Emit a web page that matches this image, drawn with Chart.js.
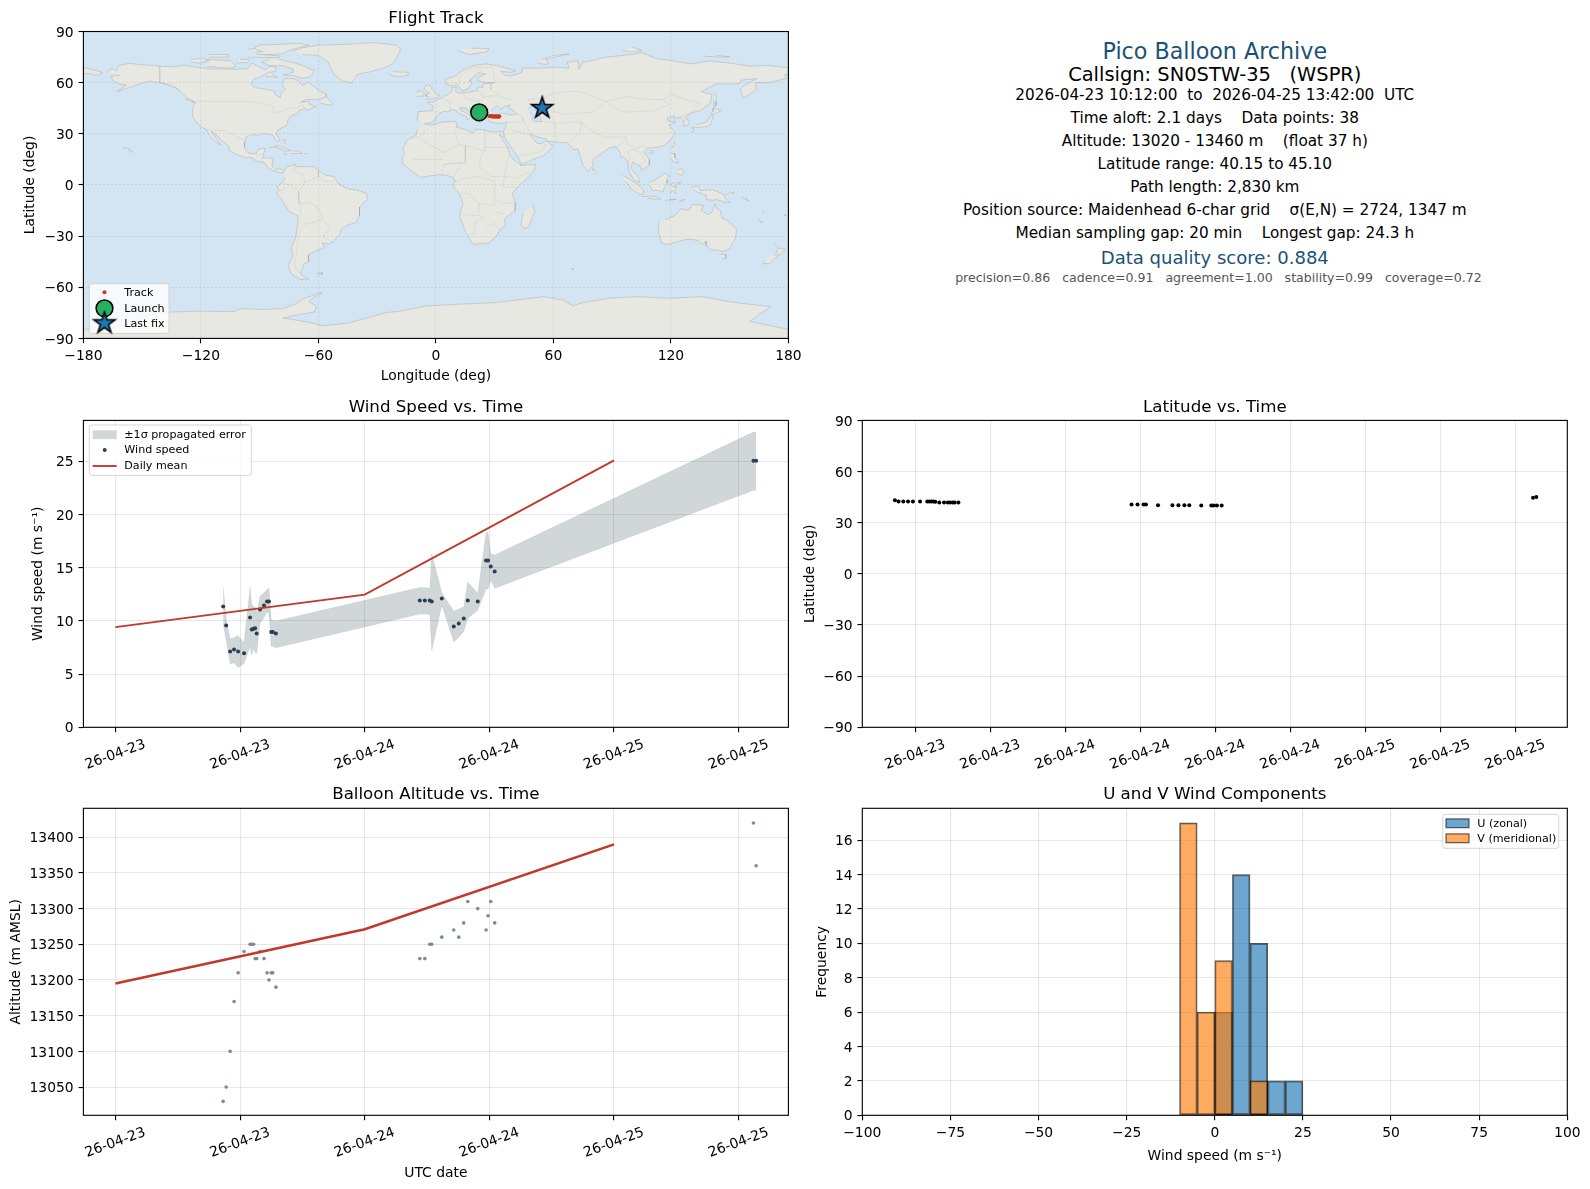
<!DOCTYPE html>
<html><head><meta charset="utf-8">
<style>
html,body{margin:0;padding:0;background:#fff;width:1590px;height:1189px;overflow:hidden;font-family:'DejaVu Sans';}
canvas{position:absolute;}
.t{position:absolute;left:862.3px;width:705px;text-align:center;white-space:pre;line-height:1;transform:translateY(-50%);color:#000;font-size:15.28px;}
</style>
<script src="https://cdn.jsdelivr.net/npm/chart.js@4"></script>
</head><body>
<script>
// ---------- shared time stamps (hours since 2026-04-23 00:00 UTC)
const hours=[10.37,10.66,11.04,11.42,11.81,12.38,12.96,13.12,13.3,13.45,13.6,13.92,14.3,14.6,14.78,15.0,15.15,15.45,
 29.3,29.78,30.26,30.45,31.42,32.57,33.05,33.53,33.92,34.88,35.68,35.87,36.13,36.51,61.42,61.68];
const windSpeed=[11.36,9.57,7.13,7.32,7.13,6.95,10.33,9.2,9.26,9.3,8.82,11.08,11.45,11.83,11.83,8.95,8.95,8.82,
 11.92,11.92,11.92,11.83,12.11,9.48,9.76,10.23,11.92,11.83,15.68,15.68,15.11,14.64,25.06,25.06];
const windUpper=[13.27,10.2,8.32,8.42,8.64,7.95,13.14,11.6,11.3,11.3,10.7,12.33,12.64,12.95,13.11,10.08,10.08,10.0,
 13.14,13.14,13.05,16.33,12.64,10.92,11.1,11.33,13.67,12.6,18.3,18.3,16.33,16.2,27.75,27.75];
const windLower=[9.76,8.2,5.94,6.07,5.63,6.0,7.57,6.79,7.4,7.0,6.95,9.76,10.3,10.86,10.64,7.63,7.63,7.48,
 10.64,10.64,10.6,7.2,11.48,8.04,8.45,9.0,10.23,11.0,13.0,13.0,13.83,13.08,22.28,22.28];
const meanHours=[0,24,48];
const windMean=[9.42,12.47,25.09];
const altMean=[13195,13271,13390];
const altitude=[13030,13050,13100,13170,13210,13240,13250,13250,13250,13230,13230,13240,13230,13210,13200,13210,13210,13190,
 13230,13230,13250,13250,13260,13270,13260,13280,13310,13300,13270,13290,13310,13280,13420,13360];
const latitude=[43.1,42.5,42.4,42.4,42.4,42.4,42.4,42.4,42.4,42.4,42.3,41.9,41.9,41.9,41.8,41.8,41.8,41.8,
 40.7,40.7,40.7,40.7,40.2,40.2,40.2,40.2,40.2,40.15,40.15,40.15,40.15,40.15,44.6,45.1];
const trackLat=[43.1,42.5,42.4,42.4,42.4,42.4,42.4,42.4,42.4,42.4,42.3,41.9,41.9,41.9,41.8,41.8,41.8,41.8,
 40.3,40.3,40.3,40.3,40.2,40.2,40.2,40.2,40.2,40.15,40.15,40.15,40.15,40.15,44.6,45.1];
const longitude=[22.1,22.3,22.5,22.8,23,23.2,23.4,23.6,23.8,24,24.2,24.4,24.7,24.9,25.2,25.4,25.6,25.9,
 27.5,27.9,28.3,28.6,29,29.5,29.9,30.3,30.7,31.1,31.5,31.8,32.1,32.4,54,54.4];
const launchPos=[22.1,42.6];
const lastFixPos=[54.3,45.1];
// ---------- tick labels
const timeTicksA=[0,12,24,36,48,60];
const timeLabelsA=['26-04-23','26-04-23','26-04-24','26-04-24','26-04-25','26-04-25'];
const timeTicksB=[12,18,24,30,36,42,48,54,60];
const timeLabelsB=['26-04-23','26-04-23','26-04-24','26-04-24','26-04-24','26-04-24','26-04-25','26-04-25','26-04-25'];
const lonTicks=[-180,-120,-60,0,60,120,180];
const latTicks=[-90,-60,-30,0,30,60,90];
const windTicks=[0,5,10,15,20,25];
const altTicks=[13050,13100,13150,13200,13250,13300,13350,13400];
const histXTicks=[-100,-75,-50,-25,0,25,50,75,100];
const histYTicks=[0,2,4,6,8,10,12,14,16];
// ---------- histogram
const uBinCenters=[2.5,7.5,12.5,17.5,22.5];
const uCounts=[6,14,10,2,2];
const vBinCenters=[-7.5,-2.5,2.5,7.5,12.5];
const vCounts=[17,6,9,0,2];
// ---------- base map (lon, lat)
const northAmerica=[[-168,65.6],[-166,68.3],[-163,67],[-162,70],[-156.5,71.3],[-150,70.5],[-141,69.7],[-135,69.3],[-128,70.2],[-125,69.5],[-115,68],[-108,68],[-102,67.8],[-96,68.2],[-94,71.5],[-90,69],[-87,67.5],[-85,69.5],[-81.5,69],[-82,66.5],[-86,66],[-88,64.2],[-93,62],[-94.5,59],[-92.5,57],[-88,56.5],[-82.5,55],[-82,52.8],[-79.5,51.3],[-79,54],[-77,56],[-78.5,58.8],[-77.5,62.4],[-73,62.3],[-70,61],[-68,58.5],[-65,60.3],[-62,57.5],[-60,55.5],[-56,53],[-56,51.8],[-60,50.2],[-66,50.2],[-69,48.5],[-65,49],[-64.5,47],[-61,46],[-64,44.5],[-66,44],[-67,45],[-70,43.7],[-70.5,41.8],[-74,40.5],[-75.5,38],[-76,35],[-78,34],[-81,32],[-81.5,30],[-80,26.8],[-80.5,25.2],[-82,26.5],[-83,29],[-85,29.7],[-89,30.2],[-90,29.2],[-94,29.6],[-97,28],[-97.5,25],[-97.8,22.3],[-96,19],[-94,18.2],[-91.5,18.5],[-90.5,21],[-87,21.5],[-88,18],[-88.5,15.8],[-84,15.8],[-83.3,15],[-83.7,11],[-82,9],[-79.5,9.5],[-77.4,8.7],[-78,7.3],[-80,7.3],[-83,8.3],[-85.7,10],[-87.5,13],[-91.5,14],[-94.5,16.2],[-97,15.9],[-102,18],[-105.5,20],[-105.5,22.5],[-109,25.7],[-112.5,29.5],[-114.7,31.7],[-112.5,27.5],[-109.5,23.2],[-112,24.8],[-115,28],[-116.5,31],[-117.2,32.5],[-120.6,34.5],[-122.5,37.5],[-124.3,40.3],[-124,46],[-122.7,48.5],[-127,51],[-130,54.5],[-133,57],[-137,58.7],[-140,59.8],[-146,61],[-151,59.5],[-153,58.5],[-158,56.5],[-163,54.8],[-158,58.5],[-162,59.3],[-165,61.5],[-166,63.5],[-161,64.5]];
const chukotkaWest=[[-180,68.9],[-175,67.5],[-170,66],[-173,64.3],[-178,65.5],[-180,65]];
const greenland=[[-73,78.5],[-68,80.5],[-60,82],[-45,82.5],[-32,83.5],[-20,82],[-18,79.5],[-20,74.5],[-22,71],[-27,68.5],[-33,66.5],[-40,65],[-43,60],[-48,61],[-52,65],[-54,69],[-55,72],[-60,76],[-68,76.5]];
const baffin=[[-80,73.7],[-72,71.5],[-68,70],[-62,67],[-64,63.5],[-68,62.5],[-72,64],[-78,64.5],[-73,66],[-73,68],[-78,70],[-85,70],[-89,72],[-85,73.7]];
const victoriaIsland=[[-117,69.5],[-105,68.5],[-102,69.5],[-105,73],[-115,73.5],[-118,71.5]];
const banksIsland=[[-125,72],[-120,71.5],[-116,73.5],[-120,74.3],[-125,73.5]];
const ellesmere=[[-90,76.5],[-85,76.5],[-78,77],[-75,79],[-65,82],[-70,83],[-90,82],[-93,80],[-88,78]];
const devonIsland=[[-96,75],[-80,74.7],[-80,75.7],[-92,76.7]];
const melvilleIsland=[[-116,75],[-106,75],[-106,76.5],[-116,76.5]];
const axelHeiberg=[[-96,79.5],[-90,80.5],[-86,78.5],[-92,78]];
const princeWales=[[-102,71.5],[-96,71.8],[-95,73.5],[-100,73.8]];
const southampton=[[-87,64],[-81,63],[-84,65.5]];
const newfoundland=[[-59,47.8],[-53,46.8],[-53,48.5],[-56,51.5]];
const vancouverIsland=[[-128,50.7],[-123.5,48.4],[-125,48.8]];
const hawaii=[[-160,22],[-156,21],[-155,19.5],[-156,19.2],[-157,21]];
const cuba=[[-85,21.8],[-80,23],[-74.2,20.2],[-77.5,19.9],[-78,20.7],[-82.5,22.5]];
const hispaniola=[[-74.5,18.4],[-68.5,18.5],[-70,19.8],[-73,19.9]];
const jamaica=[[-78.3,18.3],[-76.3,18],[-77,17.8]];
const puertoRico=[[-67.2,18.4],[-65.7,18.3],[-66,18]];
const bahamas=[[-78.5,26.7],[-77,26.5],[-77.5,24]];
const southAmerica=[[-77.4,8.7],[-75.5,10.8],[-72,12],[-71.5,10.8],[-68,10.7],[-62,10.7],[-60,8.5],[-57,6],[-52,4.8],[-50,1],[-48,-0.7],[-44,-2.5],[-40,-2.9],[-35.2,-5.3],[-35,-8.5],[-39,-13],[-39,-18],[-41,-22],[-45,-23.5],[-48.5,-26],[-49,-29],[-52,-32.5],[-54,-34.5],[-58,-34.3],[-57,-37],[-62,-39],[-65,-41],[-65,-45],[-67.5,-46.5],[-69,-51],[-68.5,-53],[-65,-55],[-69,-55.5],[-74,-52],[-75.5,-47],[-73,-42],[-73.7,-37],[-71.5,-30],[-70.5,-23],[-70.3,-18.3],[-75,-15.5],[-79,-8],[-81.3,-5],[-80,-3],[-81,-1],[-78.5,1.5],[-77,4]];
const falklands=[[-61,-52],[-58,-51.5],[-58,-52.3],[-60,-52.5]];
const africa=[[-6,35.8],[-2,35.2],[3,36.8],[10,37.3],[11,34.5],[10.2,34],[15,32.4],[19,30.3],[20,32.5],[23,32.5],[29,31],[32.5,31.2],[34.2,31.3],[34.9,29.5],[34.2,27.8],[33,29],[32.5,29.9],[33.5,27.5],[35.5,24],[37,21],[37.5,18.5],[39.5,15],[43,12],[43.3,11.5],[51,12],[50.5,9],[47,4.5],[42,-1],[39,-5],[40.5,-10.5],[40.5,-15],[35,-20],[35.5,-24],[32.8,-26],[31,-30],[27,-34],[20,-34.8],[18.3,-34],[15,-27],[12,-18],[13.8,-11],[12,-5],[9,-1],[9.7,3],[8.5,4.5],[5,5.8],[1,6],[-4,5.2],[-7.5,4.4],[-13,8.5],[-16.8,12.5],[-17.3,14.7],[-16,19],[-17,21],[-14.8,26],[-10,29.5],[-9.5,32.5]];
const madagascar=[[49.3,-12],[50.4,-15.5],[47.5,-24.5],[45,-25.5],[43.5,-23],[44.5,-16.5]];
const eurasia=[[-9,37],[-9.5,38.7],[-9,43],[-2,43.5],[-1.2,46],[-4.5,48.4],[-1.5,48.7],[1.5,50.2],[4,52],[7,53.5],[8.5,55.5],[8.2,57],[10.5,57.5],[10,55],[11,54],[14,54],[18.5,54.7],[21,55.3],[21.5,57.5],[24,57.2],[24,59.2],[28,59.6],[30,60],[25,60.2],[21.5,61],[21.5,63],[25.5,65],[22,65.8],[17.5,62],[17.5,60.5],[18.5,59.5],[16.5,56.5],[14.3,55.5],[13,55.5],[11,59],[8,58],[5.5,59],[5,62],[10,64],[14,67.5],[19,70],[25.5,71],[31,70],[41,67],[38,66],[33,66.7],[35,64.3],[38,64],[40.5,64.6],[44,66],[44,68.5],[54,68.5],[60,69],[68,68.5],[67,72],[72.5,72.8],[73,68],[75,72],[80,73],[87,75],[100,76.5],[105,77.7],[113,74],[120,73],[130,71],[140,72.7],[150,71.5],[160,69.7],[170,70],[178,69],[180,68.9],[180,65],[178,64.5],[179,62.5],[170,60],[163,60],[163.5,56],[160,53],[156.8,51],[155.5,56],[157,58],[164,62.5],[156,61.5],[155,59.3],[143,59.3],[135.5,54.7],[141,53],[140,48],[135,43.5],[130.5,42.5],[127.5,39.8],[129.4,37],[129,35.2],[126.5,34.5],[126.7,37.5],[125,39.7],[121.5,39],[122,40.5],[118,39],[119,37.3],[122.5,37],[119,35],[122,31],[121,28],[117,23.5],[113,22],[108,21.6],[106,19.5],[109,15],[109,11.5],[105,8.7],[104.8,10.5],[100.5,13.5],[99.5,10],[103.5,4.5],[104,1.4],[101,3],[98.5,8],[98,14],[96,16.5],[94.5,16],[94,19],[91.8,22.5],[89,21.8],[86.5,20],[80.3,15],[80,11],[77.5,8],[75,12],[73,19],[72.5,21],[70,20.8],[69,22.5],[67,24.8],[62,25],[57,25.7],[56.3,27],[51,28.5],[48.5,30],[48,29.5],[50,26.7],[51.5,24.5],[54,24.2],[56.3,26],[59.8,22.5],[55,17],[52,16],[45,12.8],[43.3,12.7],[42,16.5],[39,21],[35,28],[34.5,31.2],[35.5,33.5],[36,36.5],[32,36.2],[30,36.3],[27.3,37],[26.3,39.5],[29,41],[27.5,41],[26,40.7],[23.5,40],[24,38],[23,36.5],[21.2,37.5],[19.5,41],[19,42.2],[14.5,45],[12.3,45.3],[12.5,44],[16,41.8],[18.5,40.2],[16.8,39],[16,38],[15.7,40],[12.5,41.5],[10.3,43.5],[8.8,44.3],[6,43],[3.3,43],[0.5,40.7],[-0.5,38.5],[-2,36.8],[-5.5,36]];
const britain=[[-5.5,50],[1.3,51.2],[1.7,52.7],[0,53.5],[-2,56],[-2,57.7],[-3.3,58.6],[-5,58.6],[-6,56.5],[-4.8,55],[-3,54],[-4.7,53.3],[-5,52],[-3.2,51.4]];
const ireland=[[-10,52],[-6.2,52.2],[-6,54],[-7.5,55.3],[-10,54.2]];
const iceland=[[-24,65.5],[-22,64],[-19,63.4],[-14,64.5],[-14.5,66.2],[-18,66.2],[-22,66.4]];
const svalbard=[[11,79],[17,76.6],[26,78],[27,80],[18,80.2]];
const novayaZemlya=[[52,71.5],[56,70.6],[57.5,71],[56,73.5],[63,75.5],[68,76.8],[60,76],[54,73.5]];
const severnaya=[[95,79],[100,78],[105,79],[100,81]];
const newSiberia=[[137,75.5],[145,75],[150,75.2],[143,76]];
const sakhalin=[[142,54.3],[143.3,52],[143,49],[143,46.5],[142,46],[142,50]];
const honshu=[[131,34],[135,33.6],[140,35],[141,38],[141.5,41],[140,40.5],[138.5,37],[136,36],[133,35.5]];
const hokkaido=[[140,42],[143,42],[145.5,43.5],[142,45.4],[141.5,43]];
const kyushu=[[130,33.5],[131.8,33],[131,31],[130,31.5]];
const taiwan=[[120.2,23],[121,22],[122,25],[121,25.2]];
const hainan=[[108.7,19],[110.5,18.3],[111,20],[109.5,20]];
const luzon=[[120,18.5],[122,18.4],[122,16],[124,13],[121,13.7],[120,16]];
const mindanao=[[122,7],[125.5,5.8],[126.5,7.5],[125.5,9.8],[123,8.5]];
const sriLanka=[[79.8,8.5],[80.2,9.8],[81.8,7.5],[80.5,6]];
const sumatra=[[95.3,5.6],[98,4],[103.5,0],[106,-3],[105.7,-5.8],[104,-5.5],[100,-2.5],[97,2]];
const java=[[105.3,-6.8],[108.5,-6.7],[111,-6.5],[114.5,-7.8],[114.3,-8.7],[108,-7.8]];
const borneo=[[109,1.5],[111.5,2.7],[114,4.5],[117,7],[119,5.2],[117.8,3],[118,1],[116.5,-2],[116,-4],[114.5,-3.5],[110.5,-3],[109,0]];
const sulawesi=[[119.5,-5.5],[120.5,-3],[122.5,-5],[122,-3],[123,-1],[121,-1],[125,1.5],[120.5,1],[119.7,-1]];
const newGuinea=[[131,-1],[134,-0.8],[135,-3.3],[141,-2.7],[145,-4.5],[147.5,-6],[147,-7],[150.5,-10.5],[147,-10],[143.5,-8.5],[141,-9],[138,-8.3],[138,-6],[133,-4],[132,-2.8]];
const timor=[[124,-10],[127,-8.5],[125,-9]];
const flores=[[117,-9],[122.8,-8.5],[119,-8.3]];
const newBritain=[[148,-5.6],[152,-4.2],[151,-6]];
const solomons=[[156,-7],[160,-9.5],[158,-8]];
const vanuatu=[[166.8,-15],[167.5,-16.5],[167,-16]];
const caledonia=[[164,-20],[167,-22],[165,-21.5]];
const fiji=[[177.5,-18],[178.5,-17.5],[178.5,-18.2]];
const australia=[[114,-22],[113.5,-26],[115,-34],[118,-35],[124,-33],[129,-31.7],[134,-32.5],[136,-35],[138,-33],[138,-35.5],[140.5,-38],[144,-38.3],[146.5,-39],[150,-37.5],[153,-31],[153.5,-26],[149,-21],[146,-19],[145.3,-15],[143.5,-14],[142.5,-11],[141,-16],[139,-17.5],[135.5,-15],[136.8,-12],[131,-11.5],[129,-15],[125,-14],[122,-18],[117,-20.5]];
const tasmania=[[144.7,-40.8],[148,-40.8],[148,-43],[146,-43.5]];
const nzNorth=[[172.7,-34.5],[175,-37],[178.4,-37.7],[177,-39.5],[175.2,-41.5],[174,-39.5],[174.7,-37]];
const nzSouth=[[172.7,-40.6],[174.3,-41.7],[170.5,-46],[167,-46.3],[168.3,-44.2]];
const kerguelen=[[69,-49],[70.5,-49.3],[69.5,-49.7]];
const antarctica=[[-180,-90],[-180,-84.7],[-165,-84],[-155,-81],[-147,-76.5],[-135,-74.5],[-120,-74],[-103,-74.3],[-100,-72.5],[-88,-73],[-78,-72.5],[-72,-70],[-68,-67],[-60,-63.5],[-58,-63.2],[-62,-65.5],[-65,-68.5],[-61,-71],[-62,-74.5],[-70,-76],[-78,-78],[-65,-80.5],[-58,-82.7],[-45,-81],[-35,-78],[-26,-75],[-18,-74],[-5,-71],[10,-70],[30,-69],[45,-67],[55,-65.5],[65,-67.5],[70,-71],[75,-69],[88,-66.5],[103,-65.5],[120,-66.5],[136,-65.5],[150,-68.5],[171,-71.5],[165,-76],[163,-78],[160,-80],[180,-84.7],[180,-90]];
const blackSea=[[28,41.2],[31,41.2],[35,42],[38,41],[41.5,41.7],[39,44],[37,45.2],[38,47],[35,46],[33.5,44.5],[31,46.5],[28,43.5]];
const caspianSea=[[47,45],[51,47],[53,45],[50.5,44.5],[53,40.5],[54,37],[50,37.3],[49,39],[50,40.5],[47.5,43]];
const landPolygons=[northAmerica,chukotkaWest,greenland,baffin,victoriaIsland,banksIsland,ellesmere,devonIsland,melvilleIsland,axelHeiberg,princeWales,southampton,newfoundland,vancouverIsland,hawaii,cuba,hispaniola,jamaica,puertoRico,bahamas,southAmerica,falklands,africa,madagascar,eurasia,britain,ireland,iceland,svalbard,novayaZemlya,severnaya,newSiberia,sakhalin,honshu,hokkaido,kyushu,taiwan,hainan,luzon,mindanao,sriLanka,sumatra,java,borneo,sulawesi,newGuinea,timor,flores,newBritain,solomons,vanuatu,caledonia,fiji,australia,tasmania,nzNorth,nzSouth,kerguelen,antarctica];
const waterPolygons=[blackSea,caspianSea];
const borderLines=[
[[-123,49],[-95,49],[-89,48],[-83,46],[-82.5,42.5],[-79,43],[-75,45],[-71,45],[-68,47],[-67,45]],
[[-141,69.7],[-141,60],[-135,59],[-130,55]],
[[-117,32.5],[-106.5,31.8],[-103,29],[-97.5,26]],
[[-92,14.5],[-91,17.5],[-89,18]],[[-89.3,15.8],[-88,13]],
[[-72,12],[-72.5,7.5],[-67.5,6],[-67,1.5],[-70,-4],[-70,-11],[-65,-10],[-60,-13.5],[-58,-20],[-54,-25],[-57.5,-30],[-53.5,-33.5]],
[[-70.3,-18.3],[-69,-17],[-69,-11]],
[[-68.5,-53],[-72,-48],[-71,-38],[-70,-28],[-67,-23],[-62.5,-22],[-58,-20]],
[[-78.5,1.5],[-75,0],[-70,-4]],[[-80,-3.5],[-75,-1]],
[[-60,8.5],[-60,5],[-57,2],[-52,2.5]],[[-67,1.5],[-60,5]],
[[-2,35],[-8.7,28],[-13,27.7]],[[-8.7,27.3],[4,19],[12,23.5]],
[[10,33],[9.5,30],[12,23.5],[15,23],[25,20],[25,31.5]],[[25,22],[37,22]],
[[15,23],[15,13],[4,12]],[[-12,15],[4,15]],
[[24,20],[22,11],[28,5],[35,5],[36.5,14.5],[38,18]],
[[3,6.5],[4,12],[13.5,13.5],[9,4.5]],
[[12,-5],[17,-5],[22,-11],[30,-12],[30,-3],[30,2],[22,5],[15,4],[9.5,2]],
[[12,-17.3],[22,-18],[22,-11]],[[17,-29],[20,-28.5],[20,-22],[25,-18]],[[32,-26],[30,-22.5],[25,-25]],
[[40,-10.5],[34,-11],[30,-8]],[[41.5,-1.5],[34,-1],[35,5],[41,4],[48,8]],[[35,-17],[30,-15.5]],
[[-1.8,43.3],[3,42.4]],[[2.5,51],[6,49.5],[8,49],[7.5,47.5],[7,44]],
[[14,54],[15,51],[19,49.5],[22.5,49],[24,51.5],[23.5,54],[21,55.2]],[[40,49.5],[35,51],[31,52.5],[24,51.5]],
[[13.5,45.5],[19,45],[22,44],[28.5,44]],[[28,59.5],[28,56],[32,53]],[[30,60.5],[29,69],[20.5,69],[24,66]],
[[12,59],[12,63],[18,68.5],[20.5,69]],[[36,36.7],[44.5,37.2],[44,40],[41.5,41.5]],[[44.5,39],[46,35],[48.5,30]],
[[61.5,25],[61,30],[61,36.5],[54,37.5]],[[48,29.3],[39,32],[36.5,32.5]],[[43,17],[52,19],[55.5,22],[56,24]],
[[49,46],[47,50],[55,51],[61,54],[71,55],[77,53.5],[87,49]],[[53,42],[56,45],[66,41],[70,42],[80,42.5],[82.5,45.5],[87,49]],
[[87,49],[98,52],[107,50],[116,50],[119,47],[111,43.5],[96,42.7],[91,45.5],[87,49]],[[116,50],[120,53.5],[127,50],[135,48],[131,43]],
[[74,37],[79,32],[86,28],[92,28],[97,28],[98,24],[102,21.5],[106,23],[108,21.6]],
[[68,24],[71,28],[74,32],[74,37],[71,37],[61,36]],[[97,28],[93,22],[92,21]],
[[98,10],[99,15],[98,20],[101,21],[105,18],[107,14],[103,11]],[[125,40],[130.5,42.5]],[[126.5,38],[128.5,38.5]]
];

// ---------- colours / fonts
const RED='#c0392b',NAVY='#2c3e50',GREY='#7f8c8d',GREEN='#27ae60',BLUE='#1f77b4',ORANGE='#ff7f0e';
const OCEAN='#d3e5f2',LAND='#e8e8e3';
const BAND='rgba(44,73,82,0.22)';
const GRID='rgba(176,176,176,0.3)';
Chart.defaults.font.family="'DejaVu Sans'";
Chart.defaults.font.size=13.89;
Chart.defaults.color='#000';
Chart.defaults.animation=false;

function pts(xs,ys){return xs.map((x,i)=>({x,y:ys[i]}));}
function polyPts(p){return p.map(a=>({x:a[0],y:a[1]}));}
function uminus(v){return String(v).replace('-','\u2212');}

// star marker, used as a Chart.js point style
function starImage(size,R){
  const c=document.createElement('canvas');c.width=c.height=size;
  const g=c.getContext('2d');g.translate(size/2,size/2);g.beginPath();
  for(let i=0;i<10;i++){const r=i%2?R*0.382:R,a=-Math.PI/2+i*Math.PI/5;g.lineTo(r*Math.cos(a),r*Math.sin(a));}
  g.closePath();g.fillStyle=BLUE;g.fill();g.lineWidth=1.5;g.strokeStyle='#000';g.lineJoin='miter';g.stroke();
  return c;
}
const starPoint=starImage(30,11.2);

const framePlugin={id:'frame',
  beforeDraw(ch){const o=ch.options.plugins.frame;if(o&&o.bg){const a=ch.chartArea;ch.ctx.save();ch.ctx.fillStyle=o.bg;ch.ctx.fillRect(a.left,a.top,a.width,a.height);ch.ctx.restore();}},
  afterDraw(ch){const a=ch.chartArea,c=ch.ctx;c.save();c.strokeStyle='#000';c.lineWidth=1.11;c.strokeRect(a.left,a.top,a.width,a.height);c.restore();drawLegend(ch);}
};
Chart.register(framePlugin);

function drawLegend(ch){
  const L=ch.options.plugins.frame&&ch.options.plugins.frame.legend;if(!L)return;
  const c=ch.ctx,ox=ch.$ox,oy=ch.$oy;c.save();c.translate(-ox,-oy);
  const [x0,y0,x1,y1]=L.box;
  c.beginPath();c.roundRect(x0,y0,x1-x0,y1-y0,2.5);c.fillStyle='rgba(255,255,255,0.8)';c.fill();c.lineWidth=1;c.strokeStyle='rgba(204,204,204,0.8)';c.stroke();
  c.font="11.11px 'DejaVu Sans'";c.textBaseline='middle';
  for(const it of L.items){
    const hx=L.hx,hw=L.hw,y=it.y;
    if(it.kind==='patch'){c.fillStyle=it.fill;c.fillRect(hx,y-4.4,hw,8.8);if(it.stroke){c.strokeStyle=it.stroke;c.lineWidth=1.1;c.strokeRect(hx,y-4.4,hw,8.8);}}
    else if(it.kind==='dot'){c.beginPath();c.arc(hx+hw/2,y,it.r,0,7);c.fillStyle=it.fill;c.fill();}
    else if(it.kind==='line'){c.beginPath();c.moveTo(hx,y);c.lineTo(hx+hw,y);c.strokeStyle=it.fill;c.lineWidth=1.9;c.stroke();}
    else if(it.kind==='circle'){c.beginPath();c.arc(hx+hw/2,y,it.r,0,7);c.fillStyle=it.fill;c.fill();c.lineWidth=1.5;c.strokeStyle='#000';c.stroke();}
    else if(it.kind==='star'){c.drawImage(starPoint,hx+hw/2-15,y-15);}
    c.fillStyle='#000';c.fillText(it.label,L.tx,it.y+0.5);
  }
  c.restore();
}

function makeAxis(o){
  const ax={type:'linear',min:o.min,max:o.max,offset:false,
    afterBuildTicks(s){s.ticks=o.ticks.map(v=>({value:v}));},
    grid:{offset:false,color:o.gridColor||GRID,lineWidth:o.gridWidth||1.11,tickColor:'#000',tickWidth:1.11,tickLength:4.86,z:o.gridZ||0},
    border:{display:false,dash:o.dash||undefined},
    ticks:{padding:o.padding==null?4.86:o.padding,autoSkip:false,font:{size:13.89},color:'#000',
      labelOffset:o.labelOffset||0,
      callback:o.labels?((v,i)=>o.labels[i]):(v=>uminus(v)),
      minRotation:o.rot||0,maxRotation:o.rot||0}
  };
  return ax;
}

function panel(g,cfg){
  const x0=Math.floor(g.L)-84,y0=Math.floor(g.T)-30,xr=Math.ceil(g.R)+30,yb=Math.ceil(g.B)+70;
  const cv=document.createElement('canvas');cv.width=xr-x0;cv.height=yb-y0;
  cv.style.left=x0+'px';cv.style.top=y0+'px';cv.style.width=(xr-x0)+'px';cv.style.height=(yb-y0)+'px';
  document.body.appendChild(cv);
  const TH=24.2,LH=16.67;
  const xw=yb-g.B,yw=g.L-x0;
  cfg.xAxis.afterFit=s=>{s.height=xw;};
  cfg.yAxis.afterFit=s=>{s.width=yw;};
  if(cfg.xTitle){cfg.xAxis.title={display:true,text:cfg.xTitle,font:{size:13.89},color:'#000',padding:{top:0,bottom:xw-cfg.xTitleDy-LH/2}};}
  if(cfg.yTitle){cfg.yAxis.title={display:true,text:cfg.yTitle,font:{size:13.89},color:'#000',padding:{top:cfg.yTitleC-x0-LH/2,bottom:0}};}
  const chart=new Chart(cv.getContext('2d'),{type:'scatter',data:{datasets:cfg.datasets},options:{
    responsive:false,animation:false,events:[],devicePixelRatio:1,
    layout:{autoPadding:false,padding:{left:0,top:g.T-TH-y0,right:xr-g.R,bottom:0}},
    scales:{x:cfg.xAxis,y:cfg.yAxis},
    plugins:{legend:{display:false},tooltip:{enabled:false},
      title:{display:true,text:cfg.title,fullSize:false,font:{size:16.67,weight:'normal'},color:'#000',padding:{top:1,bottom:3.2}},
      frame:{bg:cfg.bg,legend:cfg.legend}}
  },plugins:[{id:'off',beforeInit(ch){ch.$ox=x0;ch.$oy=y0;}}]});
  return chart;
}

const LABEL_OFFSET=29.5,TICK_PAD=4.2,Y_SHIFT=1.5;
const colL={L:83.4,R:788.4},colR={L:862.3,R:1567.3};
const row1={T:31.5,B:338.4},row2={T:420.4,B:727.3},row3={T:808.3,B:1115.3};

// ---- Flight track
const mapDatasets=[];
landPolygons.forEach((p,i)=>mapDatasets.push({label:'land'+i,data:polyPts(p),showLine:true,fill:'shape',tension:0,
  backgroundColor:LAND,borderColor:'rgba(150,150,150,0.45)',borderWidth:0.8,pointRadius:0,order:30}));
waterPolygons.forEach((p,i)=>mapDatasets.push({label:'water'+i,data:polyPts(p),showLine:true,fill:'shape',tension:0,
  backgroundColor:OCEAN,borderColor:'rgba(150,150,150,0.45)',borderWidth:0.8,pointRadius:0,order:20}));
const borderData=[];borderLines.forEach(l=>{l.forEach(a=>borderData.push({x:a[0],y:a[1]}));borderData.push({x:null,y:null});});
mapDatasets.push({label:'borders',data:borderData,showLine:true,spanGaps:false,borderColor:'rgba(165,165,165,0.25)',borderWidth:0.8,pointRadius:0,order:10});
mapDatasets.push({label:'Track',data:pts(longitude,trackLat),showLine:false,pointRadius:2,pointBackgroundColor:RED,pointBorderWidth:0,order:3});
mapDatasets.push({label:'Launch',data:[{x:launchPos[0],y:launchPos[1]}],showLine:false,pointRadius:8.4,pointBackgroundColor:GREEN,pointBorderColor:'#000',pointBorderWidth:1.5,order:2});
mapDatasets.push({label:'Last fix',data:[{x:lastFixPos[0],y:lastFixPos[1]}],showLine:false,pointStyle:starPoint,pointRadius:11,order:1});
panel({...colL,...row1},{title:'Flight Track',bg:OCEAN,
  xAxis:makeAxis({min:-180,max:180,ticks:lonTicks,gridColor:'rgba(120,120,120,0.25)',gridWidth:0.7,dash:[2,2],gridZ:1}),
  yAxis:makeAxis({min:-90,max:90,ticks:latTicks,gridColor:'rgba(120,120,120,0.25)',gridWidth:0.7,dash:[2,2],gridZ:1,labelOffset:Y_SHIFT}),
  xTitle:'Longitude (deg)',xTitleDy:38,yTitle:'Latitude (deg)',yTitleC:30.7,datasets:mapDatasets,
  legend:{box:[89.3,283.7,169,333.3],hx:92.5,hw:24,tx:124.3,items:[
    {label:'Track',kind:'dot',fill:RED,r:2,y:292.3},
    {label:'Launch',kind:'circle',fill:GREEN,r:8.4,y:308.3},
    {label:'Last fix',kind:'star',y:323.3}]}});

// ---- Wind speed
const timeAxisA=()=>makeAxis({min:-3.085,max:64.785,ticks:timeTicksA,labels:timeLabelsA,rot:20,labelOffset:LABEL_OFFSET,padding:TICK_PAD});
panel({...colL,...row2},{title:'Wind Speed vs. Time',
  xAxis:timeAxisA(),
  yAxis:makeAxis({min:0,max:28.85,ticks:windTicks,labelOffset:Y_SHIFT}),
  yTitle:'Wind speed (m s\u207B\u00B9)',yTitleC:38.2,
  datasets:[
    {label:'\u00B11\u03C3 propagated error',data:pts(hours,windUpper),showLine:true,tension:0,fill:'+1',backgroundColor:BAND,borderColor:'rgba(44,73,82,0.08)',borderWidth:1,pointRadius:0,order:4},
    {label:'lower',data:pts(hours,windLower),showLine:true,tension:0,fill:false,borderColor:'rgba(44,73,82,0.08)',borderWidth:1,pointRadius:0,order:5},
    {label:'Wind speed',data:pts(hours,windSpeed),showLine:false,pointRadius:2,pointBackgroundColor:NAVY,pointBorderWidth:0,order:2},
    {label:'Daily mean',data:pts(meanHours,windMean),showLine:true,tension:0,borderColor:RED,borderWidth:1.9,pointRadius:0,order:1}
  ],
  legend:{box:[89.3,425,251.3,475.3],hx:92.7,hw:24,tx:124.3,items:[
    {label:'\u00B11\u03C3 propagated error',kind:'patch',fill:BAND,y:434.7},
    {label:'Wind speed',kind:'dot',fill:NAVY,r:2,y:450},
    {label:'Daily mean',kind:'line',fill:RED,y:466}]}});

// ---- Latitude
panel({...colR,...row2},{title:'Latitude vs. Time',
  xAxis:makeAxis({min:7.76,max:64.16,ticks:timeTicksB,labels:timeLabelsB,rot:20,labelOffset:LABEL_OFFSET,padding:TICK_PAD}),
  yAxis:makeAxis({min:-90,max:90,ticks:latTicks,labelOffset:Y_SHIFT}),
  yTitle:'Latitude (deg)',yTitleC:810.2,
  datasets:[{label:'Latitude',data:pts(hours,latitude),showLine:false,pointRadius:2,pointBackgroundColor:'#000',pointBorderWidth:0}]});

// ---- Altitude
panel({...colL,...row3},{title:'Balloon Altitude vs. Time',
  xAxis:timeAxisA(),
  yAxis:makeAxis({min:13010.5,max:13440.5,ticks:altTicks,labelOffset:Y_SHIFT}),
  xTitle:'UTC date',xTitleDy:58,yTitle:'Altitude (m AMSL)',yTitleC:16.2,
  datasets:[
    {label:'Altitude',data:pts(hours,altitude),showLine:false,pointRadius:1.8,pointBackgroundColor:GREY,pointBorderWidth:0,order:2},
    {label:'Daily mean',data:pts(meanHours,altMean),showLine:true,tension:0,borderColor:RED,borderWidth:2.6,pointRadius:0,order:1}
  ]});

// ---- Histogram
const HIST_EDGE='rgba(0,0,0,0.65)';
panel({...colR,...row3},{title:'U and V Wind Components',
  xAxis:makeAxis({min:-100,max:100,ticks:histXTicks}),
  yAxis:makeAxis({min:0,max:17.85,ticks:histYTicks,labelOffset:Y_SHIFT}),
  xTitle:'Wind speed (m s\u207B\u00B9)',xTitleDy:41,yTitle:'Frequency',yTitleC:822.2,
  datasets:[
    {type:'bar',label:'U (zonal)',data:pts(uBinCenters,uCounts),grouped:false,barPercentage:1,categoryPercentage:1,backgroundColor:'rgba(31,119,180,0.65)',borderColor:HIST_EDGE,borderWidth:1.3,borderSkipped:false,order:2},
    {type:'bar',label:'V (meridional)',data:pts(vBinCenters,vCounts),grouped:false,barPercentage:1,categoryPercentage:1,backgroundColor:'rgba(255,127,14,0.65)',borderColor:HIST_EDGE,borderWidth:1.3,borderSkipped:false,order:1}
  ],
  legend:{box:[1442.7,814.3,1558.7,848.3],hx:1446,hw:23,tx:1477.3,items:[
    {label:'U (zonal)',kind:'patch',fill:'rgba(31,119,180,0.65)',stroke:HIST_EDGE,y:823.3},
    {label:'V (meridional)',kind:'patch',fill:'rgba(255,127,14,0.65)',stroke:HIST_EDGE,y:838.3}]}});

// ---- Summary text
const summary=[
 ['Pico Balloon Archive',51,22.22,'#1a5276',0],
 ['Callsign: SN0STW-35   (WSPR)',74.8,19.44,'#000',0],
 ['2026-04-23 10:12:00  to  2026-04-25 13:42:00  UTC',95.8,15.28,'#000',0],
 ['Time aloft: 2.1 days    Data points: 38',119,15.28,'#000',0],
 ['Altitude: 13020 - 13460 m    (float 37 h)',142,15.28,'#000',0],
 ['Latitude range: 40.15 to 45.10',165,15.28,'#000',0],
 ['Path length: 2,830 km',188,15.28,'#000',0],
 ['Position source: Maidenhead 6-char grid    \u03C3(E,N) = 2724, 1347 m',211,15.28,'#000',0],
 ['Median sampling gap: 20 min    Longest gap: 24.3 h',234,15.28,'#000',0],
 ['Data quality score: 0.884',258,18.05,'#1a5276',0],
 ['precision=0.86   cadence=0.91   agreement=1.00   stability=0.99   coverage=0.72',278.4,12.55,'#555',3.6]
];
summary.forEach(s=>{const d=document.createElement('div');d.className='t';d.textContent=s[0];d.style.top=s[1]+'px';d.style.fontSize=s[2]+'px';d.style.color=s[3];d.style.marginLeft=s[4]+'px';document.body.appendChild(d);});
</script>
</body></html>
